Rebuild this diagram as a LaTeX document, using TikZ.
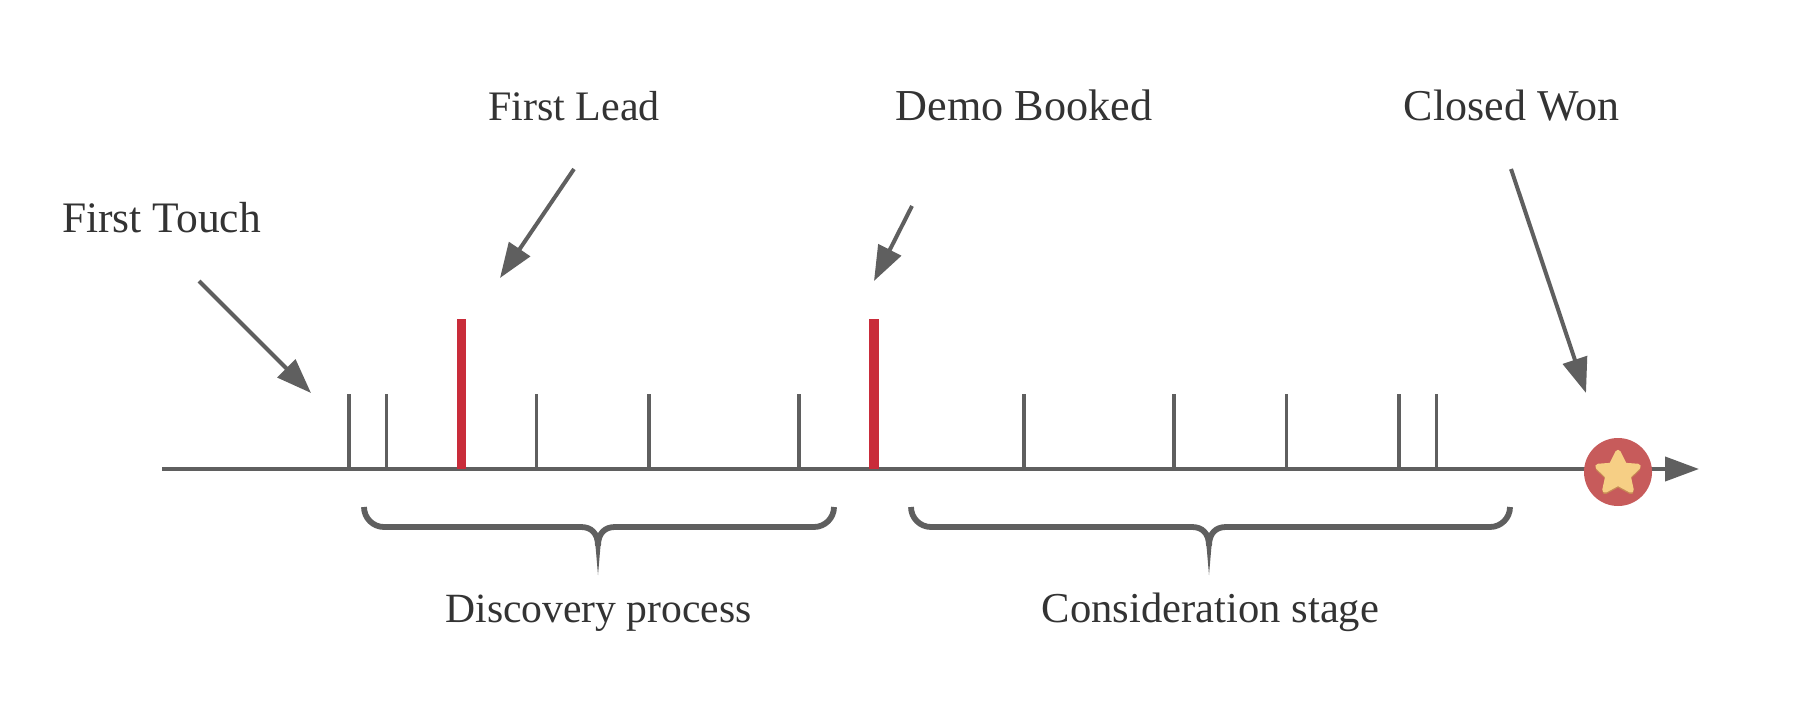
\documentclass[tikz,border=0pt]{standalone}
\usepackage{fontspec}
\setmainfont{Liberation Serif}
\usetikzlibrary{arrows.meta}
\definecolor{axisgray}{HTML}{5F5F5F}
\definecolor{txtgray}{HTML}{333333}
\definecolor{markred}{HTML}{C92C3A}
\definecolor{circred}{HTML}{C75B5B}
\definecolor{stary}{HTML}{F6CF85}
\definecolor{starsh}{HTML}{C88A55}
\tikzset{
  axisline/.style={draw=axisgray,line width=4pt,-{Triangle[length=34pt,width=24pt,color=axisgray]}},
  pointer/.style={draw=axisgray,line width=4pt,-{Triangle[length=35pt,width=25pt,color=axisgray]}},
  tickmark/.style={draw=axisgray,line width=3.4pt},
  redmark/.style={draw=markred,line width=9pt},
  bracearm/.style={draw=axisgray,line width=5.8pt},
  lab/.style={text=txtgray,inner sep=0pt,anchor=base},
  sublab/.style={text=txtgray,inner sep=0pt,anchor=base},
}
\newcommand\fsz[1]{\fontsize{#1}{#1}\selectfont}
\newcommand\starshape[3]{%
  \fill[#3,draw=#3,line width=5.5pt,line join=round]
   (#1+0,#2-20.5) -- (#1+6.5,#2-7.5) -- (#1+20,#2-6.5) -- (#1+10,#2+3.2) -- (#1+13,#2+17)
   -- (#1+0,#2+10) -- (#1-13,#2+17) -- (#1-10,#2+3.2) -- (#1-20,#2-6.5) -- (#1-6.5,#2-7.5) -- cycle;}
\newcommand\bracedraw[3]{%
  \draw[bracearm] (#1,507) .. controls (#1,518) and (#1+9,527) .. (#1+20,527) -- (#2-17,527)
     .. controls (#2-7,527) and (#2,533) .. (#2,546);
  \draw[bracearm] (#3,507) .. controls (#3,518) and (#3-9,527) .. (#3-20,527) -- (#2+17,527)
     .. controls (#2+7,527) and (#2,533) .. (#2,546);
  \fill[axisgray] (#2-3,540) -- (#2,575) -- (#2+3,540) -- cycle;}
\begin{document}
\begin{tikzpicture}[x=1pt,y=-1pt]
\useasboundingbox (0,0) rectangle (1811,714);
\fill[white] (0,0) rectangle (1811,714);
% coordinates
\coordinate (axisstart) at (162,469);
\coordinate (axisend) at (1699,469);
\coordinate (touchfrom) at (199,281);
\coordinate (touchto) at (311,393);
\coordinate (leadfrom) at (574,169);
\coordinate (leadto) at (500,278);
\coordinate (demofrom) at (912,206);
\coordinate (demoto) at (874,281);
\coordinate (wonfrom) at (1511,169);
\coordinate (wonto) at (1586,393);
% axis
\draw[axisline] (axisstart) -- (axisend);
% ticks
\foreach \tx/\tw in {349/4,386/3,536/3,649/3.6,799/3.4,1024/3.6,1174/4,1286.5/3,1399/4,1436/3}
  \draw[tickmark,line width=\tw pt] (\tx,394) -- (\tx,469);
\draw[redmark] (461.5,319) -- (461.5,469);
\draw[redmark,line width=10pt] (874,319) -- (874,469);
% star
\fill[circred] (1618,472) circle (34);
\starshape{1618}{474.5}{starsh}
\starshape{1618}{473}{stary}
% pointers
\draw[pointer] (touchfrom) -- (touchto);
\draw[pointer] (leadfrom) -- (leadto);
\draw[pointer] (demofrom) -- (demoto);
\draw[pointer] (wonfrom) -- (wonto);
% braces
\bracedraw{364}{598}{834}
\bracedraw{911}{1209}{1510}
% labels
\node[lab,font=\fsz{43.5}] (touch) at (161.5,232) {First Touch};
\node[lab,font=\fsz{42}] (lead) at (574,121) {First Lead};
\node[lab,font=\fsz{44.2}] (demo) at (1024,121) {Demo Booked};
\node[lab,font=\fsz{44}] (won) at (1511.5,121) {Closed Won};
\node[sublab,font=\fsz{41.6}] (disc) at (598.5,622) {Discovery process};
\node[sublab,font=\fsz{42.6}] (cons) at (1210.5,622) {Consideration stage};
\end{tikzpicture}
\end{document}
